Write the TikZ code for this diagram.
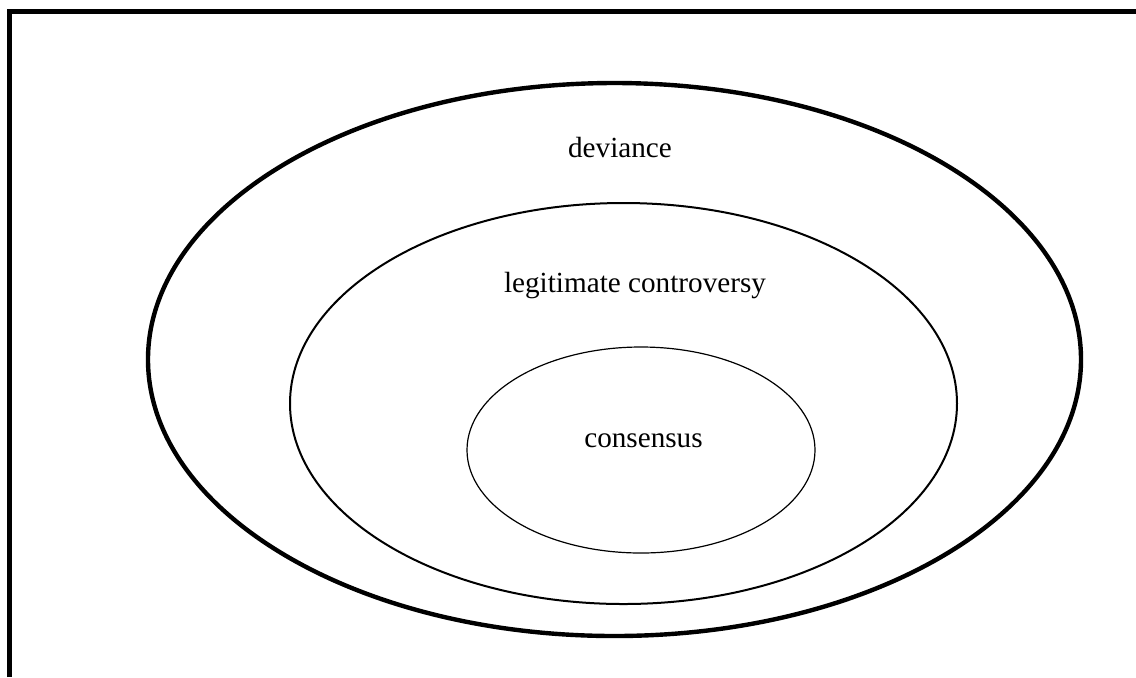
\documentclass[tikz,border=0pt]{standalone}
\usepackage{fontspec}
\setmainfont{Liberation Serif}
\usetikzlibrary{shapes.geometric}
\usetikzlibrary{positioning}

\begin{document}
\begin{tikzpicture}[x=0.5pt, y=-0.5pt]
	\useasboundingbox (0,0) rectangle (1136,677);
	\draw[line width=2.5pt] (9.5,677) |- (1136,11.5);

	\begin{scope}[every node/.style={ellipse, draw, inner sep=0pt}]
		\node[line width=2.2pt, minimum width=466.5pt, minimum height=276.5pt] (1) at (614.5,359.5) {};
		\node[line width=1pt, minimum width=333.5pt, minimum height=200.5pt] (2) at (623.5,403.5) {};
		\node[line width=0.6pt, minimum width=174pt, minimum height=103pt] (3) at (641,450) {};
	\end{scope}

	\begin{scope}[every node/.style={anchor=base, inner sep=0pt, font=\fontsize{14.6pt}{17pt}\selectfont}]
		\node (a) at (620,157) {deviance};
		\node (b) at (635,292) {legitimate controversy};
		\node (c) at (643.5,447) {consensus};
	\end{scope}
\end{tikzpicture}
\end{document}
